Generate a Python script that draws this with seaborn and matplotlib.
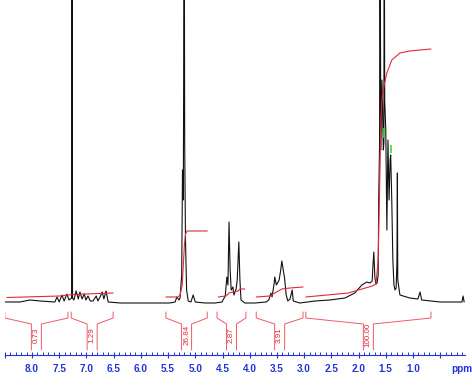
import matplotlib
matplotlib.use("Agg")
import numpy as np
import pandas as pd
import seaborn as sns
import matplotlib.pyplot as plt
from matplotlib.ticker import FixedLocator, FixedFormatter

# ---------------- data ----------------
# 1H NMR spectrum: chemical shift (ppm) and intensity (arbitrary units, 0 = baseline)
spec_ppm = [8.50, 8.22, 8.04, 7.85, 7.58, 7.54, 7.50, 7.45, 7.41, 7.36, 7.32, 7.272, 7.264, 7.256,
            7.23, 7.19, 7.15, 7.12, 7.08, 7.04, 7.01, 6.97, 6.93, 6.88, 6.82, 6.79, 6.75, 6.71,
            6.68, 6.64, 6.60, 6.38, 5.83, 5.47, 5.37, 5.34, 5.30, 5.28, 5.25, 5.235, 5.22,
            5.203, 5.195, 5.18, 5.16, 5.13, 5.08, 5.04, 5.00, 4.82, 4.64, 4.51, 4.45, 4.42, 4.40,
            4.38, 4.36, 4.34, 4.31, 4.29, 4.25, 4.23, 4.215, 4.20, 4.18, 4.16, 4.09, 3.90,
            3.70, 3.65, 3.61, 3.59, 3.55, 3.54, 3.51, 3.48, 3.46, 3.43, 3.41, 3.39, 3.36,
            3.33, 3.30, 3.26, 3.22, 3.20, 3.08, 2.80, 2.53, 2.25, 2.07, 1.94, 1.85, 1.79,
            1.75, 1.74, 1.72, 1.70, 1.68, 1.66, 1.64, 1.63, 1.614, 1.607, 1.59, 1.57, 1.545,
            1.535, 1.528, 1.52, 1.50, 1.48, 1.46, 1.44, 1.42, 1.41, 1.39, 1.37, 1.35, 1.33,
            1.31, 1.295, 1.287, 1.28, 1.24, 1.06, 0.91, 0.87, 0.84, 0.50, 0.10, 0.08, 0.06]
spec_int = [1, 1, 3, 2, 1, 6, 1, 8, 2, 9, 3, 5, 420, 5,
            3, 12, 4, 11, 4, 9, 3, 7, 2, 2, 7, 2, 6, 11,
            4, 12, 1, 0, 0, 0, 1, 6, 3, 5, 28, 133, 103,
            420, 160, 63, 13, 2, 1, 8, 1, 0, 0, 1, 7, 26, 18,
            81, 33, 13, 16, 8, 14, 23, 43, 61, 23, 3, 0, 0,
            1, 3, 10, 6, 20, 26, 18, 21, 23, 33, 42, 35, 25,
            8, 2, 4, 13, 2, 0, 2, 3, 5, 10, 18, 21, 20,
            22, 33, 51, 25, 19, 20, 28, 103, 160, 420, 153, 223, 153,
            160, 420, 203, 173, 73, 163, 103, 143, 148, 103, 43, 18, 13,
            15, 40, 130, 23, 8, 5, 4, 11, 3, 1, 1, 7, 1]

# integral curves (ppm, integral value)
int_curve_id = ([0] * 4 + [1] * 9 + [2] * 6 + [3] * 6 + [4] * 15)
int_curve_ppm = [8.46, 7.49, 7.26, 6.51,
                 5.54, 5.32, 5.28, 5.24, 5.22, 5.20, 5.18, 5.15, 4.78,
                 4.58, 4.44, 4.38, 4.215, 4.18, 4.09,
                 3.88, 3.63, 3.54, 3.41, 3.26, 3.02,
                 2.97, 2.19, 1.75, 1.68, 1.64, 1.61, 1.59, 1.57, 1.53, 1.48, 1.39, 1.24,
                 1.06, 0.87, 0.67]
int_curve_val = [5.5, 7, 8.5, 10,
                 6, 6, 8, 18, 38, 58, 69, 72, 72,
                 6, 7, 10, 12, 14, 14,
                 6, 7, 10, 14, 15, 16,
                 6, 10, 17, 19, 43, 123, 183, 203, 218, 230, 243, 250, 252, 253, 254]

# integration regions and their values
region_start = [8.50, 7.28, 5.54, 4.60, 3.88, 2.97]
region_end = [7.34, 6.51, 4.78, 4.07, 3.02, 0.67]
region_label = ["0.73", "1.29", "26.84", "2.87", "3.91", "100.00"]

# peak-pick markers (green)
marker_ppm = [1.53, 1.41]
marker_lo = [165, 150]
marker_hi = [175, 158]

# axis ticks
major_ticks = [8.5, 8.0, 7.5, 7.0, 6.5, 6.0, 5.5, 5.0, 4.5, 4.0, 3.5, 3.0, 2.5, 2.0, 1.5, 1.0, 0.5]
major_labels = ["", "8.0", "7.5", "7.0", "6.5", "6.0", "5.5", "5.0", "4.5", "4.0", "3.5",
                "3.0", "2.5", "2.0", "1.5", "1.0", ""]

# ---------------- styling ----------------
BLUE = "#2233d8"
RED = "#e02a3a"
BRACKET = "#ee5a68"

sns.set_theme(style="white")
plt.rcParams['font.family'] = ['Liberation Sans', 'DejaVu Sans']

W, H = 472, 385
fig = plt.figure(figsize=(W / 100, H / 100), dpi=100)
ax = fig.add_axes([4.8 / W, 30 / H, (464.7 - 4.8) / W, 355 / H])

spec = pd.DataFrame({"ppm": spec_ppm, "intensity": spec_int})
sns.lineplot(data=spec, x="ppm", y="intensity", sort=False, estimator=None,
             color="#111111", lw=0.8, ax=ax)

integ = pd.DataFrame({"ppm": int_curve_ppm, "val": int_curve_val, "seg": int_curve_id})
sns.lineplot(data=integ, x="ppm", y="val", units="seg", sort=False, estimator=None,
             color=RED, lw=0.8, ax=ax, legend=False)

ax.vlines(marker_ppm, marker_lo, marker_hi, color="#33dd33", lw=1.2)

# integration brackets
half_gap = 0.092
for s, e, lab in zip(region_start, region_end, region_label):
    m = (s + e) / 2
    ax.plot([s, s, m + half_gap, m + half_gap], [-9, -15, -21, -47], color=BRACKET, lw=0.7)
    ax.plot([e, e, m - half_gap, m - half_gap], [-9, -15, -21, -47], color=BRACKET, lw=0.7)
    ax.text(m, -32, lab, rotation=90, ha="center", va="center", color=RED, fontsize=5.8)

ax.set_xlim(8.5, 0.05)
ax.set_ylim(-52, 303)
ax.set_xlabel("")
ax.set_ylabel("")
ax.set_yticks([])
for sp in ["left", "right", "top"]:
    ax.spines[sp].set_visible(False)
ax.spines["bottom"].set_color(BLUE)
ax.spines["bottom"].set_linewidth(0.8)

ax.xaxis.set_major_locator(FixedLocator(major_ticks))
ax.xaxis.set_major_formatter(FixedFormatter(major_labels))
ax.xaxis.set_minor_locator(FixedLocator([round(0.1 * i, 1) for i in range(1, 85)]))
ax.tick_params(axis="x", which="major", direction="inout", length=5, width=0.8,
               colors=BLUE, labelsize=7.2, pad=4, bottom=True)
ax.tick_params(axis="x", which="minor", direction="in", length=2, width=0.7,
               colors=BLUE, bottom=True)
for t in ax.get_xticklabels():
    t.set_fontweight("bold")

fig.text(451 / W, 1 - 369 / H, "ppm", color=BLUE, fontsize=7.2, fontweight="bold",
         ha="left", va="center")

fig.savefig("out.png", dpi=100)
